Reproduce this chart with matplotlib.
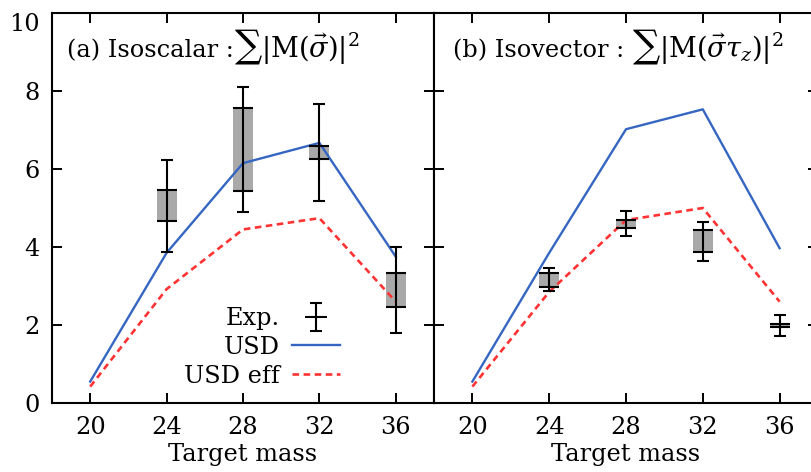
import numpy as np
import matplotlib.pyplot as plt
from matplotlib.lines import Line2D
from matplotlib.container import ErrorbarContainer
from matplotlib.legend_handler import HandlerErrorbar

plt.rcParams['font.family'] = ['DejaVu Serif']
plt.rcParams['mathtext.fontset'] = 'dejavuserif'

mass = [20, 24, 28, 32, 36]

# shell-model sums
usd_a = [0.55, 3.85, 6.15, 6.67, 3.75]
usd_eff_a = [0.42, 2.92, 4.45, 4.74, 2.6]
usd_b = [0.55, 3.85, 7.02, 7.53, 3.97]
usd_eff_b = [0.42, 2.85, 4.69, 5.0, 2.6]

# measured strengths: centre, error, systematic band
exp_mass = [24, 28, 32, 36]
exp_a = [5.05, 6.5, 6.42, 2.9]
err_a = [1.17, 1.6, 1.25, 1.1]
band_lo_a = [4.67, 5.44, 6.25, 2.46]
band_hi_a = [5.45, 7.57, 6.6, 3.34]

exp_b = [3.17, 4.6, 4.14, 1.99]
err_b = [0.3, 0.33, 0.51, 0.27]
band_lo_b = [2.98, 4.48, 3.86, 1.95]
band_hi_b = [3.33, 4.7, 4.44, 2.03]

titles = ['(a) Isoscalar :', '(b) Isovector : ']
formulas = [r'$\sum|\mathrm{M}(\vec{\sigma})|^2$',
            r'$\sum|\mathrm{M}(\vec{\sigma}\tau_z)|^2$']

blue = '#3566c2'
red = '#ff3333'
fs = 17.3

fig = plt.figure(figsize=(8.11, 4.72), dpi=100)
ax_a = fig.add_axes([52 / 811, 69 / 472, 382 / 811, 390 / 472])
ax_b = fig.add_axes([434 / 811, 69 / 472, 384 / 811, 390 / 472])

panels = [(ax_a, usd_a, usd_eff_a, exp_a, err_a, band_lo_a, band_hi_a),
          (ax_b, usd_b, usd_eff_b, exp_b, err_b, band_lo_b, band_hi_b)]

for i, (ax, usd, eff, ex, er, lo, hi) in enumerate(panels):
    lo = np.array(lo)
    hi = np.array(hi)
    ax.bar(exp_mass, hi - lo, bottom=lo, width=1.05, color='#a9a9a9', zorder=1)
    ax.hlines(lo, np.array(exp_mass) - 0.52, np.array(exp_mass) + 0.52, color='k', lw=1.5, zorder=3)
    ax.hlines(hi, np.array(exp_mass) - 0.52, np.array(exp_mass) + 0.52, color='k', lw=1.5, zorder=3)
    ax.errorbar(exp_mass, ex, yerr=er, fmt='none', ecolor='k', elinewidth=1.5,
                capsize=4, capthick=1.5, zorder=4)
    ax.plot(mass, usd, color=blue, lw=1.7, zorder=2)
    ax.plot(mass, eff, color=red, lw=1.9, dashes=(2.5, 1.7), zorder=2)

    ax.set_xlim(18, 38)
    ax.set_ylim(0, 10)
    ax.set_xticks(mass)
    ax.set_yticks([0, 2, 4, 6, 8, 10])
    ax.tick_params(direction='in', top=True, right=True, length=7, width=1.4,
                   labelsize=fs, pad=9)
    for s in ax.spines.values():
        s.set_linewidth(1.5)
    ax.set_xlabel('Target mass', fontsize=fs, labelpad=3)
    t = ax.text(0.039 if i == 0 else 0.05, 0.887, titles[i], transform=ax.transAxes,
                fontsize=fs, va='baseline', ha='left')
    # formula set a little larger than the label text
    ax.annotate(formulas[i], xy=(1, 0), xycoords=t, xytext=(0, -2.5),
                textcoords='offset points', va='bottom', ha='left', fontsize=19.5)

ax_b.tick_params(labelleft=False)
ax_a.get_yticklabels()[-1].set_va('top')

# legend with errorbar cross for the data
eb = ax_a.errorbar([np.nan], [np.nan], yerr=[0.5], fmt='none', ecolor='k',
                   elinewidth=1.5, capsize=4, capthick=1.5)
cross = Line2D([], [], color='k', marker='_', markersize=16, mew=1.5, linestyle='none')
h_usd = Line2D([], [], color=blue, lw=1.7)
h_eff = Line2D([], [], color=red, lw=1.9, dashes=(2.5, 1.7))
ax_a.legend([(eb, cross), h_usd, h_eff], ['Exp.', 'USD', 'USD eff'],
            handler_map={ErrorbarContainer: HandlerErrorbar(yerr_size=0.58)},
            loc='upper right', bbox_to_anchor=(0.754, 0.246), frameon=False,
            markerfirst=False, fontsize=fs, handlelength=2.0, handletextpad=0.5,
            borderpad=0, borderaxespad=0, labelspacing=0.24)

fig.savefig('out.png', dpi=100)
